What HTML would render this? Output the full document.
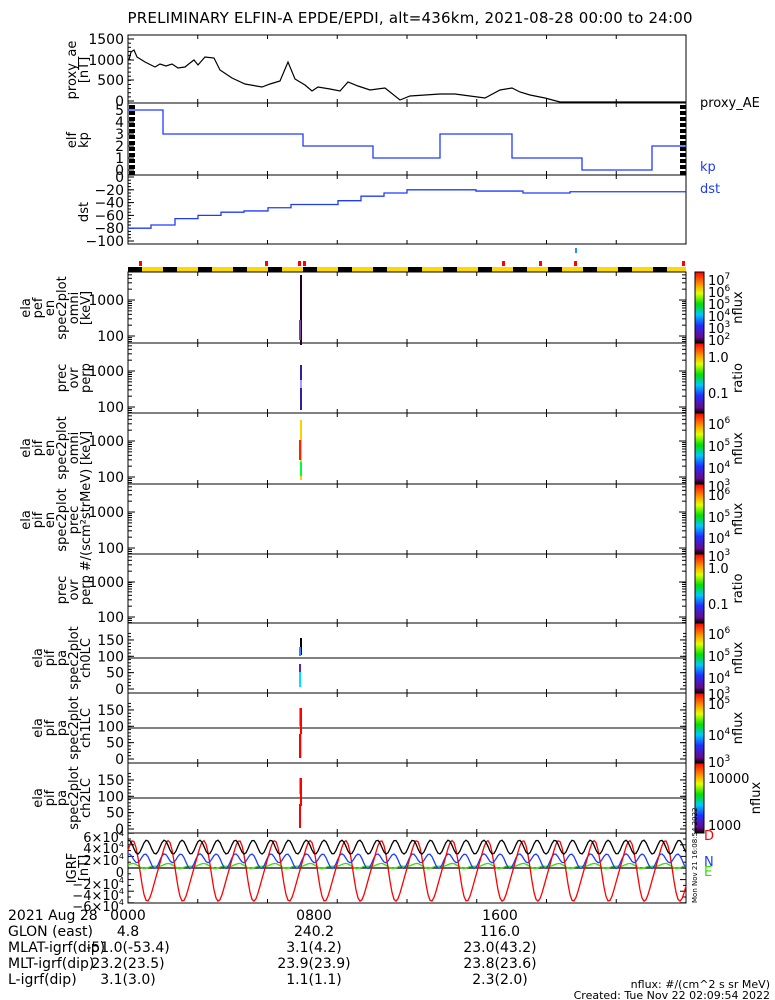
<!DOCTYPE html>
<html><head><meta charset="utf-8"><style>
html,body{margin:0;padding:0;background:#fff}
svg{display:block}
text{font-family:"DejaVu Sans","Liberation Sans",sans-serif;fill:#000}
</style></head><body>
<svg id="s" width="775" height="1000" xmlns="http://www.w3.org/2000/svg">
<defs>
<linearGradient id="rb" x1="0" y1="1" x2="0" y2="0">
<stop offset="0" stop-color="#000"/><stop offset="0.08" stop-color="#6a0a8a"/><stop offset="0.25" stop-color="#2030ff"/><stop offset="0.4" stop-color="#00c8ff"/><stop offset="0.55" stop-color="#00e000"/><stop offset="0.7" stop-color="#e0ff00"/><stop offset="0.82" stop-color="#ff9a00"/><stop offset="1" stop-color="#ff0000"/>
</linearGradient>
</defs>
<text x="410" y="23" font-size="15" text-anchor="middle" textLength="565">PRELIMINARY ELFIN-A EPDE/EPDI, alt=436km, 2021-08-28 00:00 to 24:00</text>
<g id="g"></g>
</svg>
<script>
const g=document.getElementById('g');let h='';
const X0=128,X1=686;
function rect(x,y,w,hh,f,st){h+=`<rect x="${x}" y="${y}" width="${w}" height="${hh}" fill="${f||'none'}" ${st?`stroke="${st}"`:''}/>`;}
function line(x1,y1,x2,y2,c,w){h+=`<line x1="${x1}" y1="${y1}" x2="${x2}" y2="${y2}" stroke="${c||'#000'}" stroke-width="${w||1}"/>`;}
function txt(x,y,s,o){o=o||{};h+=`<text x="${x}" y="${y}" font-size="${o.fs||13}" ${o.a?`text-anchor="${o.a}"`:''} ${o.c?`style="fill:${o.c}"`:''} ${o.r?`transform="rotate(-90 ${x} ${y})"`:''}>${s}</text>`;}
function poly(pts,c,w){h+=`<polyline fill="none" stroke="${c}" stroke-width="${w||1.3}" points="${pts.map(p=>p.join(',')).join(' ')}"/>`;}
function vlabel(lines,cx,cy){let n=lines.length;lines.forEach((l,i)=>{txt(cx-(n-1-i)*12+4,cy,l,{r:1,a:'middle',fs:13});});}
function xticks(y0,y1){for(let i=1;i<8;i++){let x=X0+i*(X1-X0)/8;line(x,y0,x,y0-4);line(x,y1,x,y1+4);}}
const panels=[[35,103],[103,175],[175,244]];
panels.forEach(p=>{rect(X0,p[0],X1-X0,p[1]-p[0],'none','#000');xticks(p[1],p[0]);});
[[0,101],[500,80],[1000,60],[1500,39]].forEach(t=>{line(X0,t[1],X0+6,t[1]);txt(124,t[1]+5,t[0],{a:'end',fs:14});});
for(let v=100;v<1500;v+=100){let y=101-v*0.0413;line(X0,y,X0+3,y);}
vlabel(['proxy_ae','[nT]'],84,70);
let ae=[[129,60],[131,52],[134,50],[137,57],[145,62],[155,67],[160,64],[166,66],[172,64],[178,68],[185,67],[190,63],[194,60],[198,65],[205,57],[214,58],[220,70],[232,78],[245,84],[262,87],[270,84],[280,81],[288,62],[295,79],[305,85],[312,91],[318,87],[330,89],[340,91],[348,82],[358,86],[370,90],[385,88],[400,100],[410,96],[425,95],[440,94],[455,94],[470,96],[485,98],[500,90],[512,88],[520,92],[530,95],[545,98],[560,102],[580,102],[620,102],[686,102]];
poly(ae,'#000',1.2);
txt(700,107,'proxy_AE',{fs:13});
for(let k=0;k<=5;k++){let y=170-k*12;line(X0,y,X0+6,y);txt(124,y+5,k,{a:'end',fs:14});}
vlabel(['elf','kp'],84,140);
for(let y=105;y<172;y+=6){rect(129,y,6,4,'#000');rect(680,y,6,4,'#000');}
let kp=[[163,5],[303,3],[373,2],[440,1],[512,3],[582,1],[652,0],[686,2]];let pts=[],px=X0;
kp.forEach(s=>{let y=170-s[1]*12;pts.push([px,y],[s[0],y]);px=s[0];});poly(pts,'#1e3cff',1.3);
txt(700,171,'kp',{c:'#1e3cff',fs:13});txt(700,193,'dst',{c:'#1e3cff',fs:13});
for(let v=0;v>=-100;v-=20){let y=177-v*0.64;line(X0,y,X0+6,y);txt(124,y+5,v==0?'0':'−'+(-v),{a:'end',fs:14});}
for(let v=0;v>=-100;v-=5){let y=177-v*0.64;line(X0,y,X0+3,y);}
vlabel(['dst'],84,212);
let ds=[[151,-80],[175,-75],[198,-65],[221,-60],[244,-55],[268,-53],[291,-48],[338,-43],[361,-37],[384,-30],[407,-25],[476,-20],[523,-22],[570,-25],[686,-23]];pts=[];px=X0;
ds.forEach(s=>{let y=177-s[1]*0.64;pts.push([px,y],[s[0],y]);px=s[0];});poly(pts,'#1e3cff',1.3);
line(576,248,576,253,'#1e90ff',2);
for(let x=X0,i=0;x<X1;i++){let w=i%2?21:14;rect(x,267,Math.min(w,X1-x),5,i%2?'#ffd800':'#000');x+=w;}
[140,266,299,304,503,540,575,683].forEach(x=>rect(x-1,261,3,5,'#f00'));
const sp=[[272,343],[343,413],[413,484],[484,554],[554,623],[623,693],[693,763],[763,833],[833,903]];
sp.forEach(p=>{rect(X0,p[0],X1-X0,p[1]-p[0],'none','#000');xticks(p[1],p[0]);});
const logs=[[272,300,336],[343,371,407],[413,441,477],[484,512,548],[554,582,617]];
logs.forEach(l=>{txt(124,l[1]+5,'1000',{a:'end',fs:14});txt(124,l[2]+5,'100',{a:'end',fs:14});
 [l[1],l[2]].forEach(y=>{line(X0,y,X0+7,y);line(X1,y,X1-7,y);});
 for(let d=0;d<2;d++){let base=d?l[2]:l[1];for(let m=2;m<10;m++){let y=base-Math.log10(m)*36;if(y>l[0]){line(X0,y,X0+4,y);line(X1,y,X1-4,y);}}}
 for(let m=2;m<10;m++){let y=l[2]+36-Math.log10(m)*36;if(y<l[0]+70){line(X0,y,X0+4,y);line(X1,y,X1-4,y);}}
});
vlabel(['ela','pef','en','spec2plot','omni','[keV]'],86,308);
vlabel(['prec','ovr','perp'],86,378);
vlabel(['ela','pif','en','spec2plot','omni','[keV]'],86,448);
vlabel(['ela','pif','en','spec2plot','prec','#/(scm²strMeV)'],86,520);
vlabel(['prec','ovr','perp'],86,590);
[[623,'ch0LC'],[693,'ch1LC'],[763,'ch2LC']].forEach(p=>{let t=p[0];
 [150,100,50,0].forEach(v=>{let y=t+66-v*0.327;txt(124,y+5,v,{a:'end',fs:14});line(X0,y,X0+6,y);line(X1,y,X1-6,y);});
 for(let v=10;v<180;v+=10){let y=t+66-v*0.327;line(X0,y,X0+3,y);line(X1,y,X1-3,y);}
 line(X0,t+35,X1,t+35);
 vlabel(['ela','pif','pa','spec2plot',p[1]],86,t+35);});
rect(300,275,2,70,'#200020');rect(299,320,2,20,'#8040a0');
rect(300,365,2,45,'#3020a0');rect(300,380,2,8,'#a0a0ff');
rect(300,420,2,60,'#ffd000');rect(299,440,2,20,'#ff2000');rect(300,462,2,14,'#00ff40');
rect(300,638,2,17,'#000');rect(299,647,2,9,'#1e90ff');rect(299,664,2,15,'#6020c0');rect(299,672,2,15,'#00e0ff');
rect(299,708,2,18,'#00ff40');rect(300,708,2,28,'#ff0000');rect(299,734,2,24,'#ff0000');rect(301,734,1,24,'#c0ff00');
rect(299,778,2,16,'#00ff80');rect(300,778,2,28,'#ff0000');rect(299,804,2,24,'#ff0000');
[[272,343,[['10<tspan font-size="9" dy="-6">7</tspan>',280],['10<tspan font-size="9" dy="-6">6</tspan>',292],['10<tspan font-size="9" dy="-6">5</tspan>',304],['10<tspan font-size="9" dy="-6">4</tspan>',316],['10<tspan font-size="9" dy="-6">3</tspan>',328],['10<tspan font-size="9" dy="-6">2</tspan>',340]],'nflux'],
 [343,413,[['1.0',357],['0.1',393]],'ratio'],
 [413,484,[['10<tspan font-size="9" dy="-6">6</tspan>',424],['10<tspan font-size="9" dy="-6">5</tspan>',446],['10<tspan font-size="9" dy="-6">4</tspan>',468],['10<tspan font-size="9" dy="-6">3</tspan>',486]],'nflux'],
 [484,554,[['10<tspan font-size="9" dy="-6">6</tspan>',495],['10<tspan font-size="9" dy="-6">5</tspan>',517],['10<tspan font-size="9" dy="-6">4</tspan>',538],['10<tspan font-size="9" dy="-6">3</tspan>',556]],'nflux'],
 [554,623,[['1.0',568],['0.1',604]],'ratio'],
 [623,693,[['10<tspan font-size="9" dy="-6">6</tspan>',634],['10<tspan font-size="9" dy="-6">5</tspan>',656],['10<tspan font-size="9" dy="-6">4</tspan>',678],['10<tspan font-size="9" dy="-6">3</tspan>',694]],'nflux'],
 [693,763,[['10<tspan font-size="9" dy="-6">5</tspan>',704],['10<tspan font-size="9" dy="-6">4</tspan>',735],['10<tspan font-size="9" dy="-6">3</tspan>',762]],'nflux'],
 [763,833,[['10000',778],['1000',825]],'nflux']].forEach(c=>{
 rect(695,c[0],9,c[1]-c[0],'url(#rb)');rect(695,c[0],9,c[1]-c[0],'none','#000');
 c[2].forEach(t=>txt(708,t[1]+5,t[0],{fs:13}));
 txt(c[3]=='nflux'&&c[0]==763?760:742,(c[0]+c[1])/2,c[3],{r:1,a:'middle',fs:13});});
vlabel(['IGRF','[nT]'],84,868);
[['6×10<tspan font-size="8" dy="-6">4</tspan>',838],['4×10<tspan font-size="8" dy="-6">4</tspan>',849],['2×10<tspan font-size="8" dy="-6">4</tspan>',861],['0',873],['−2×10<tspan font-size="8" dy="-6">4</tspan>',885],['−4×10<tspan font-size="8" dy="-6">4</tspan>',896],['−6×10<tspan font-size="8" dy="-6">4</tspan>',907]].forEach(t=>txt(124,t[1]+4,t[0],{a:'end',fs:13}));
for(let v=-60;v<=60;v+=10){let y=868-v*0.58;line(X0,y,X0+(v%20?3:6),y);line(X1,y,X1-(v%20?3:6),y);}
line(X0,868,X1,868,'#000',1.3);
let bk=[],bl=[],gr=[],rd=[];
for(let x=X0;x<=X1;x+=2){let t=(x-X0)/35.5*2*Math.PI;
 bk.push([x,868-0.58*(36+12*Math.cos(2*t-0.3))]);
 bl.push([x,868-0.58*(14+10*Math.sin(2*t+1.5)+5*Math.sin(t))]);
 gr.push([x,868-0.58*(3+5*Math.max(0,Math.sin(t+0.5))-4*Math.max(0,Math.sin(t-1)))]);
 let r=-5+50*Math.cos(t-0.55)+8*Math.sin(2*(t-0.55));
 rd.push([x,868-0.58*r]);}
poly(gr,'#30e000');poly(bl,'#1e3cff');poly(rd,'#ff0000');poly(bk,'#000');
txt(704,840,'D',{c:'#f00',fs:13});txt(704,866,'N',{c:'#1e3cff',fs:13});txt(704,876,'E',{c:'#30e000',fs:13});
txt(697,903,'Mon Nov 21 16:08:54 2022',{r:1,fs:7});
const rows=[['2021 Aug 28','0000','0800','1600'],['GLON (east)','4.8','240.2','116.0'],['MLAT-igrf(dip)','-51.0(-53.4)','3.1(4.2)','23.0(43.2)'],['MLT-igrf(dip)','23.2(23.5)','23.9(23.9)','23.8(23.6)'],['L-igrf(dip)','3.1(3.0)','1.1(1.1)','2.3(2.0)']];
rows.forEach((r,i)=>{let y=920+i*16;txt(8,y,r[0],{fs:14});txt(128,y,r[1],{a:'middle',fs:14});txt(314,y,r[2],{a:'middle',fs:14});txt(500,y,r[3],{a:'middle',fs:14});});
txt(770,988,'nflux: #/(cm^2 s sr MeV)',{a:'end',fs:11});txt(770,999,'Created: Tue Nov 22 02:09:54 2022',{a:'end',fs:11});
g.innerHTML=h;
</script>
</body></html>
